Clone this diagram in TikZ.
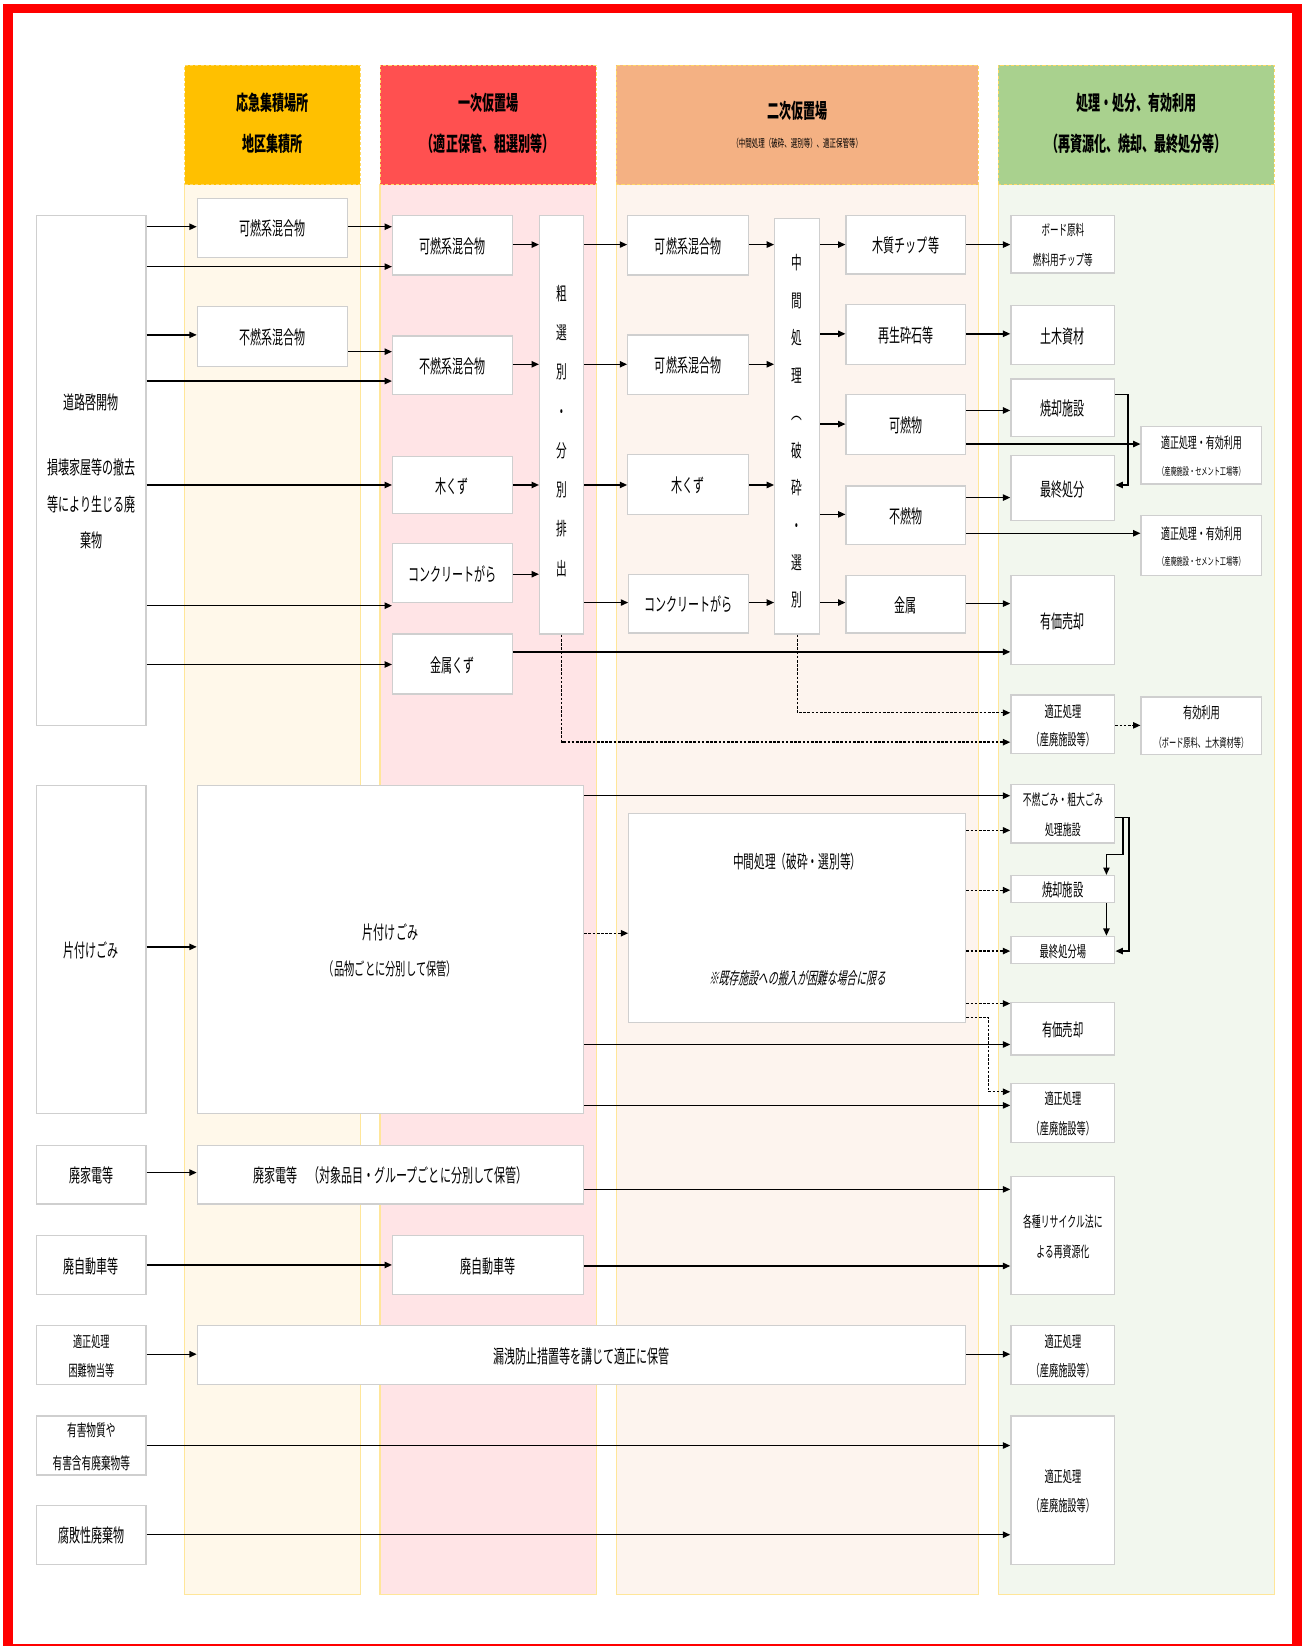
\documentclass[tikz,border=0pt]{standalone}
\usepackage{fontspec}
\setmainfont{Noto Sans CJK JP}[FakeStretch=0.59]
\usetikzlibrary{arrows.meta,fit}
\definecolor{boxgray}{HTML}{CFCFCF}
\definecolor{hdrline}{HTML}{FFD966}
\definecolor{bodyline}{HTML}{FFE699}
\definecolor{hA}{HTML}{FFC000}
\definecolor{hB}{HTML}{FF5050}
\definecolor{hC}{HTML}{F4B183}
\definecolor{hD}{HTML}{A9D18E}
\definecolor{bA}{HTML}{FFF8EA}
\definecolor{bB}{HTML}{FFE4E6}
\definecolor{bC}{HTML}{FDF4EE}
\definecolor{bD}{HTML}{F2F7EE}
\definecolor{frame}{HTML}{FF0000}
\newcommand\bx[7][]{\node[box,fit={(#3,#4)(#5,#6)}] (#2) {};\node[txt,#1] (#2t) at (#2.center) {#7};}
\newcommand\fsz[2]{\fontsize{\fpeval{#1*1.15}}{#2}\selectfont}
\begin{document}
\begin{tikzpicture}[x=1pt,y=-1pt,
 box/.style={draw=boxgray, line width=1.2pt, fill=white, inner sep=0pt},
 txt/.style={inner sep=0pt, align=center, font=\fsz{15.5}{28}, yshift=-1pt},
 arr/.style={line width=1.3pt, -{Triangle[length=7pt,width=6pt]}},
 dsh/.style={arr, dash pattern=on 2.5pt off 1.5pt},
 hdr/.style={draw=hdrline, densely dashed, line width=0.8pt, inner sep=0pt},
 htxt/.style={inner sep=0pt, align=center, font=\bfseries\fsz{16.9}{39}},
 body/.style={draw=bodyline, line width=1pt}
]
\useasboundingbox (0,0) rectangle (1242,1568);
\fill[white] (0,0) rectangle (1242,1568);
\draw[frame, line width=9pt] (7.5,8) rectangle (1235.5,1571);

% column bodies
\draw[body, fill=bA] (176,176) rectangle (343,1519);
\draw[body, fill=bB] (362,176) rectangle (568,1519);
\draw[body, fill=bC] (587,176) rectangle (932,1519);
\draw[body, fill=bD] (951,176) rectangle (1214,1519);

% headers
\node[hdr, fill=hA, fit={(176,62)(343,176)}] (H1) {};
\node[htxt] (H1t) at (259.5,117.5) {応急集積場所\\地区集積所};
\node[hdr, fill=hB, fit={(362,62)(568,176)}] (H2) {};
\node[htxt] (H2t) at (465,117.5) {一次仮置場\\（適正保管、粗選別等）};
\node[hdr, fill=hC, fit={(587,62)(932,176)}] (H3) {};
\node[htxt] (H3t) at (759.5,106) {二次仮置場};
\node[htxt, font=\fsz{9.1}{12}] (H3s) at (759.5,137) {（中間処理（破砕、選別等）、適正保管等）};
\node[hdr, fill=hD, fit={(951,62)(1214,176)}] (H4) {};
\node[htxt] (H4t) at (1082.5,117.5) {処理・処分、有効利用\\（再資源化、焼却、最終処分等）};

% left column
\bx[font=\fsz{15.5}{35}]{L1}{35}{205}{139}{691}{道路啓開物\\[27pt]損壊家屋等の撤去\\等により生じる廃\\棄物}
\bx{L2}{35}{748}{139}{1061}{片付けごみ}
\bx{L3}{35}{1091}{139}{1147}{廃家電等}
\bx{L4}{35}{1177}{139}{1233}{廃自動車等}
\bx[font=\fsz{12.8}{28}]{L5}{35}{1263}{139}{1319}{適正処理\\困難物当等}
\bx[font=\fsz{13.6}{31}]{L6}{35}{1349}{139}{1405}{有害物質や\\有害含有廃棄物等}
\bx{L7}{35}{1434}{139}{1490}{腐敗性廃棄物}

% column 1
\bx{A1}{188}{189}{331}{245}{可燃系混合物}
\bx{A2}{188}{292}{331}{349}{不燃系混合物}

% column 2
\bx{B1}{374}{205}{488}{262}{可燃系混合物}
\bx{B2}{374}{320}{488}{376}{不燃系混合物}
\bx{B3}{374}{435}{488}{489}{木くず}
\bx{B4}{374}{518}{488}{574}{コンクリートがら}
\bx{B5}{374}{604}{488}{661}{金属くず}
\bx[font=\fsz{15}{37.4}, yshift=-5pt]{BS}{514}{205}{556}{604}{粗\\選\\別\\・\\分\\別\\排\\出}
\bx[font=\fsz{15.5}{35}]{BK}{188}{748}{556}{1061}{片付けごみ\\{\fsz{14.4}{35}（品物ごとに分別して保管）}}
\bx{BH}{188}{1091}{556}{1147}{廃家電等　（対象品目・グループごとに分別して保管）}
\bx{BC}{374}{1177}{556}{1233}{廃自動車等}
\bx{BL}{188}{1263}{920}{1319}{漏洩防止措置等を講じて適正に保管}

% column 3
\bx{C1}{598}{205}{713}{262}{可燃系混合物}
\bx{C2}{598}{319}{713}{376}{可燃系混合物}
\bx{C3}{598}{433}{713}{490}{木くず}
\bx{C4}{599}{547}{713}{603}{コンクリートがら}
\bx[font=\fsz{15}{35.7}, yshift=-4pt]{CM}{738}{208}{781}{604}{中\\間\\処\\理\\︵\\破\\砕\\・\\選\\別}
\bx{D1}{806}{205}{920}{261}{木質チップ等}
\bx{D2}{806}{290}{920}{347}{再生砕石等}
\bx{D3}{806}{376}{920}{433}{可燃物}
\bx{D4}{806}{463}{920}{519}{不燃物}
\bx{D5}{806}{548}{920}{603}{金属}
\node[box, fit={(599,775)(920,974)}] (CB) {};
\node[txt, font=\fsz{15}{20}] (CBt) at (759.5,820) {中間処理（破砕・選別等）};
\node[txt, font=\fsz{13.8}{20}\addfontfeature{FakeSlant=0.2}] (CBn) at (759.5,931) {※既存施設への搬入が困難な場合に限る};

% column 4
\bx[font=\fsz{12}{28}]{E1}{963}{205}{1062}{260}{ボード原料\\燃料用チップ等}
\bx{E2}{963}{291}{1062}{347}{土木資材}
\bx{E3}{963}{361}{1062}{416}{焼却施設}
\bx{E4}{963}{434}{1062}{496}{最終処分}
\bx{E5}{963}{548}{1062}{633}{有価売却}
\bx[font=\fsz{12.9}{27}]{E6}{963}{662}{1062}{718}{適正処理\\（産廃施設等）}
\bx[font=\fsz{12.5}{28}]{E7}{963}{747}{1062}{803}{不燃ごみ・粗大ごみ\\処理施設}
\bx[font=\fsz{14.5}{20}]{E8}{963}{834}{1062}{860}{焼却施設}
\bx[font=\fsz{13}{20}]{E9}{963}{892}{1062}{918}{最終処分場}
\bx[font=\fsz{14.5}{28}]{E10}{963}{955}{1062}{1005}{有価売却}
\bx[font=\fsz{12.9}{28}]{E11}{963}{1032}{1062}{1088}{適正処理\\（産廃施設等）}
\bx[font=\fsz{12.5}{28}]{E12}{963}{1121}{1062}{1233}{各種リサイクル法に\\よる再資源化}
\bx[font=\fsz{12.9}{28}]{E13}{963}{1263}{1062}{1319}{適正処理\\（産廃施設等）}
\bx[font=\fsz{12.9}{28}]{E14}{963}{1349}{1062}{1490}{適正処理\\（産廃施設等）}

% far right
\bx[font=\fsz{12.6}{25}]{F1}{1087}{406}{1202}{461}{適正処理・有効利用\\{\fsz{8.7}{25}（産廃施設・セメント工場等）}}
\bx[font=\fsz{12.6}{25}]{F2}{1087}{491}{1202}{548}{適正処理・有効利用\\{\fsz{8.7}{25}（産廃施設・セメント工場等）}}
\bx[font=\fsz{12.9}{27}]{F3}{1087}{664}{1202}{719}{有効利用\\{\fsz{10.1}{27}（ボード原料、土木資材等）}}

% connectors: road debris
\draw[arr] (L1.east|-0,216) -- (A1.west|-0,216);
\draw[arr] (L1.east|-0,254) -- (B1.west|-0,254);
\draw[arr] (L1.east|-0,319) -- (A2.west|-0,319);
\draw[arr] (L1.east|-0,363) -- (B2.west|-0,363);
\draw[arr] (L1.east|-0,462) -- (B3.west|-0,462);
\draw[arr] (L1.east|-0,577) -- (B4.west|-0,577);
\draw[arr] (L1.east|-0,633) -- (B5.west|-0,633);
\draw[arr] (A1.east|-0,216) -- (B1.west|-0,216);
\draw[arr] (A2.east|-0,335) -- (B2.west|-0,335);
\draw[arr] (B1.east|-0,233) -- (BS.west|-0,233);
\draw[arr] (B2.east|-0,347) -- (BS.west|-0,347);
\draw[arr] (B3.east|-0,462) -- (BS.west|-0,462);
\draw[arr] (B4.east|-0,547) -- (BS.west|-0,547);
\draw[arr] (BS.east|-0,233) -- (C1.west|-0,233);
\draw[arr] (BS.east|-0,347) -- (C2.west|-0,347);
\draw[arr] (BS.east|-0,462) -- (C3.west|-0,462);
\draw[arr] (BS.east|-0,574) -- (C4.west|-0,574);
\draw[arr] (C1.east|-0,233) -- (CM.west|-0,233);
\draw[arr] (C2.east|-0,347) -- (CM.west|-0,347);
\draw[arr] (C3.east|-0,462) -- (CM.west|-0,462);
\draw[arr] (C4.east|-0,574) -- (CM.west|-0,574);
\draw[arr] (CM.east|-0,233) -- (D1.west|-0,233);
\draw[arr] (CM.east|-0,318) -- (D2.west|-0,318);
\draw[arr] (CM.east|-0,404) -- (D3.west|-0,404);
\draw[arr] (CM.east|-0,490) -- (D4.west|-0,490);
\draw[arr] (CM.east|-0,574) -- (D5.west|-0,574);
\draw[arr] (D1.east|-0,233) -- (E1.west|-0,233);
\draw[arr] (D2.east|-0,318) -- (E2.west|-0,318);
\draw[arr] (D3.east|-0,391) -- (E3.west|-0,391);
\draw[arr] (D4.east|-0,474) -- (E4.west|-0,474);
\draw[arr] (D5.east|-0,575) -- (E5.west|-0,575);
\draw[arr] (D3.east|-0,423) -- (F1.west|-0,423);
\draw[arr] (D4.east|-0,508) -- (F2.west|-0,508);
\draw[arr] (E3.east|-0,376) -- ++(12,0) |- (E4.east|-0,462);
\draw[arr] (B5.east|-0,621) -- (E5.west|-0,621);
\draw[dsh] (CM.south) |- (E6.west|-0,679);
\draw[dsh] (BS.south) |- (E6.west|-0,707);
\draw[dsh] (E6.east|-0,691) -- (F3.west|-0,691);

% connectors: katazuke
\draw[arr] (L2.east|-0,902) -- (BK.west|-0,902);
\draw[arr] (BK.east|-0,758) -- (E7.west|-0,758);
\draw[dsh] (BK.east|-0,889) -- (CB.west|-0,889);
\draw[dsh] (CB.east|-0,791) -- (E7.west|-0,791);
\draw[dsh] (CB.east|-0,848) -- (E8.west|-0,848);
\draw[dsh] (CB.east|-0,906) -- (E9.west|-0,906);
\draw[dsh] (CB.east|-0,956) -- (E10.west|-0,956);
\draw[dsh] (CB.east|-0,969) -- ++(21,0) |- (E11.west|-0,1040);
\draw[arr] (BK.east|-0,995) -- (E10.west|-0,995);
\draw[arr] (BK.east|-0,1053) -- (E11.west|-0,1053);
\draw[arr] (E7.east|-0,779) -- ++(13,0) |- (E9.east|-0,906);
\draw[arr] (E7.east|-0,779) -- ++(7,0) |- (1054,814) -- (E8.north-|1054,0);
\draw[arr] (E8.south-|1054,0) -- (E9.north-|1054,0);

% connectors: others
\draw[arr] (L3.east|-0,1117) -- (BH.west|-0,1117);
\draw[arr] (BH.east|-0,1133) -- (E12.west|-0,1133);
\draw[arr] (L4.east|-0,1205) -- (BC.west|-0,1205);
\draw[arr] (BC.east|-0,1206) -- (E12.west|-0,1206);
\draw[arr] (L5.east|-0,1290) -- (BL.west|-0,1290);
\draw[arr] (BL.east|-0,1290) -- (E13.west|-0,1290);
\draw[arr] (L6.east|-0,1377) -- (E14.west|-0,1377);
\draw[arr] (L7.east|-0,1462) -- (E14.west|-0,1462);
\end{tikzpicture}
\end{document}
